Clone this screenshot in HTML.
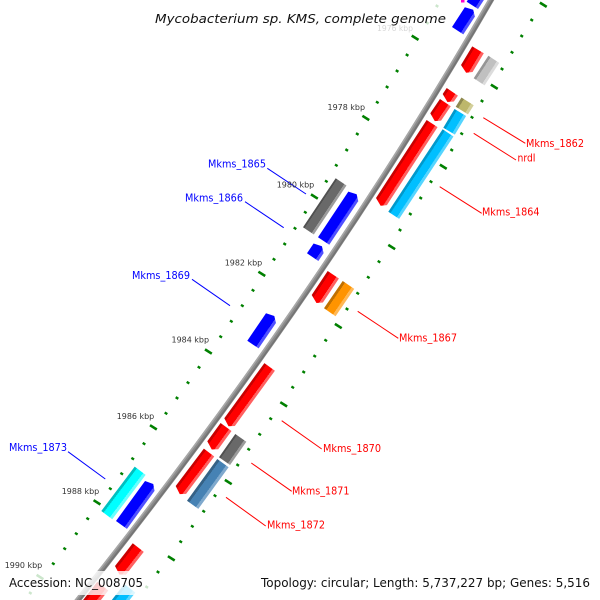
<!DOCTYPE html>
<html><head><meta charset="utf-8"><style>
html,body{margin:0;padding:0;background:#fff}
svg{display:block}
text{font-family:"DejaVu Sans","Liberation Sans",sans-serif}
.r{fill:#f00;font-size:10.4px}.b{fill:#00f;font-size:10.4px}
.k{fill:#333;font-size:8.2px}
.m{fill:#111;font-size:12.8px}
</style></head><body>
<svg width="600" height="600" viewBox="0 0 600 600" xmlns="http://www.w3.org/2000/svg">
<defs>
<linearGradient id="red" x1="0" y1="0" x2="0" y2="1"><stop offset=".2" stop-color="#c80000"/><stop offset=".2" stop-color="#f00"/><stop offset=".78" stop-color="#f00"/><stop offset=".78" stop-color="#ff6060"/></linearGradient>
<linearGradient id="blue" x1="0" y1="0" x2="0" y2="1"><stop offset=".78" stop-color="#00f"/><stop offset=".78" stop-color="#5050ff"/></linearGradient>
<linearGradient id="sky" x1="0" y1="0" x2="0" y2="1"><stop offset=".2" stop-color="#0099cc"/><stop offset=".2" stop-color="#00bfff"/><stop offset=".78" stop-color="#00bfff"/><stop offset=".78" stop-color="#55d5ff"/></linearGradient>
<linearGradient id="aqua" x1="0" y1="0" x2="0" y2="1"><stop offset=".2" stop-color="#00c0c0"/><stop offset=".2" stop-color="#0ff"/><stop offset=".78" stop-color="#0ff"/><stop offset=".78" stop-color="#66ffff"/></linearGradient>
<linearGradient id="dgray" x1="0" y1="0" x2="0" y2="1"><stop offset=".14" stop-color="#505050"/><stop offset=".14" stop-color="#696969"/><stop offset=".8" stop-color="#696969"/><stop offset=".8" stop-color="#9b9b9b"/></linearGradient>
<linearGradient id="lgray" x1="0" y1="0" x2="0" y2="1"><stop offset=".2" stop-color="#969696"/><stop offset=".2" stop-color="#c0c0c0"/><stop offset=".78" stop-color="#c0c0c0"/><stop offset=".78" stop-color="#dcdcdc"/></linearGradient>
<linearGradient id="khaki" x1="0" y1="0" x2="0" y2="1"><stop offset=".2" stop-color="#8e8950"/><stop offset=".2" stop-color="#bdb76b"/><stop offset=".78" stop-color="#bdb76b"/><stop offset=".78" stop-color="#d3cf9a"/></linearGradient>
<linearGradient id="orange" x1="0" y1="0" x2="0" y2="1"><stop offset=".2" stop-color="#c07000"/><stop offset=".2" stop-color="#ff9400"/><stop offset=".78" stop-color="#ff9400"/><stop offset=".78" stop-color="#ffb855"/></linearGradient>
<linearGradient id="steel" x1="0" y1="0" x2="0" y2="1"><stop offset=".2" stop-color="#356287"/><stop offset=".2" stop-color="#4682b4"/><stop offset=".78" stop-color="#4682b4"/><stop offset=".78" stop-color="#7fa9cd"/></linearGradient>
</defs>

<!-- ticks -->
<path fill="none" stroke="#008000" stroke-width="2.4" d="
M405.8 54.2l2.6 1.6M395.8 70.2l2.6 1.6M385.8 86.2l2.6 1.6M376 101.5l2.6 1.6
M356 133.2l2.6 1.6M345.4 149.2l2.6 1.6M335 164.5l2.6 1.6M325 180.5l2.6 1.6
M304 211.5l2.6 1.6M293.7 227.5l2.6 1.6M283.4 243.2l2.6 1.6M272.7 258.5l2.6 1.6
M251.7 289.5l2.6 1.6M241 304.9l2.6 1.6M230 320.5l2.6 1.6M219.4 335.9l2.6 1.6
M197.7 366.5l2.6 1.6M186.7 381.9l2.6 1.6M175.7 397.2l2.6 1.6M164.7 412.5l2.6 1.6
M142.7 442.9l2.6 1.6M131.4 457.9l2.6 1.6M120.4 472.9l2.6 1.6M109 487.9l2.6 1.6
M86.4 517.9l2.6 1.6M75 532.9l2.6 1.6M63.4 547.9l2.6 1.6M52 562.9l2.6 1.6
M530.4 19.2l2.6 1.6M520.4 35.2l2.6 1.6M510.7 51.5l2.6 1.6M500.7 68.2l2.6 1.6
M480.7 100.2l2.6 1.6M470.7 116.5l2.6 1.6M460.4 132.9l2.6 1.6M450.4 149.2l2.6 1.6
M429.7 180.9l2.6 1.6M419.4 197.2l2.6 1.6M409 213.2l2.6 1.6M398.7 229.2l2.6 1.6
M377.7 260.9l2.6 1.6M367 276.5l2.6 1.6M356.4 292.5l2.6 1.6M345.7 308.2l2.6 1.6
M324.4 339.5l2.6 1.6M313.4 355.3l2.6 1.6M302.4 371.2l2.6 1.6M291.4 386.5l2.6 1.6
M269.4 417.9l2.6 1.6M258.4 433.5l2.6 1.6M247.4 448.5l2.6 1.6M236.4 464.2l2.6 1.6
M213.7 494.9l2.6 1.6M202.4 510.5l2.6 1.6M191 525.5l2.6 1.6M179.4 540.9l2.6 1.6
M156.7 571.2l2.6 1.6M145.4 586.2l2.6 1.6
M426 22.2l2.6 1.6M435.7 5.2l2.6 1.6M29 592.2l2.6 1.6"/>
<path fill="none" stroke="#008000" stroke-width="2.6" d="
M411.7 35.6l6.8 4.3M362.4 115.8l6.8 4.3M311 194.4l6.8 4.3M258.4 271.7l6.8 4.3M205 349.4l6.8 4.3M150 425.2l6.8 4.3M93.6 500.2l6.8 4.3M36.6 574.9l6.8 4.3
M539.9 2.6l6.8 4.3M490.9 84.6l6.8 4.3M439.9 164.6l6.8 4.3M388.3 244.9l6.8 4.3M334.9 323.9l6.8 4.3M280.3 402.2l6.8 4.3M224.9 479.9l6.8 4.3M167.9 556.2l6.8 4.3"/>

<!-- backbone -->
<path fill="none" stroke="#8a8a8a" stroke-width="5.6" d="M502.5 -20Q322.9 295 70 610"/>
<path fill="none" stroke="#a8a8a8" stroke-width="1.6" transform="translate(-1.7,-1.1)" d="M502.5 -20Q322.9 295 70 610"/>
<path fill="none" stroke="#747474" stroke-width="1.6" transform="translate(1.2,.8)" d="M502.5 -20Q322.9 295 70 610"/>

<!-- genes -->
<rect x="461" y="0" width="3.5" height="2.5" fill="#ff00cc"/>
<g transform="translate(452,27) rotate(-57)"><polygon fill="url(#blue)" points="0,0 23.6,0 26,8.4 21.2,13.5 0,13.5"/></g>
<g transform="translate(466.7,1.7) rotate(-57)"><polygon fill="url(#blue)" points="0,0 30,0 30,13.5 0,13.5"/></g>
<g transform="translate(461,65) rotate(-59)"><polygon fill="url(#red)" points="21.8,0 21.8,13.5 0,13.5 -4,8.4 0,0"/></g>
<g transform="translate(473.7,78.3) rotate(-57)"><polygon fill="url(#lgray)" points="0,0 26.9,0 26.9,13 0,13"/></g>
<g transform="translate(442.7,94) rotate(-56)"><polygon fill="url(#red)" points="7.2,0 7.2,13.5 0,13.5 -4,8.4 0,0"/></g>
<g transform="translate(430.3,113.3) rotate(-56)"><polygon fill="url(#red)" points="17.3,0 17.3,13 0,13 -4,8.1 0,0"/></g>
<g transform="translate(455.7,106.7) rotate(-58)"><polygon fill="url(#khaki)" points="0,0 10.8,0 10.8,14.5 0,14.5"/></g>
<g transform="translate(443.3,127.7) rotate(-59)"><polygon fill="url(#sky)" points="0,0 21.8,0 21.8,13.5 0,13.5"/></g>
<g transform="translate(388.3,211.7) rotate(-56.6)"><polygon fill="url(#sky)" points="0,0 98.7,0 98.7,13 0,13"/></g>
<g transform="translate(376,198) rotate(-57)"><polygon fill="url(#red)" points="93,0 93,13 0,13 -4,8.1 0,0"/></g>
<g transform="translate(303,227.3) rotate(-56.3)"><polygon fill="url(#dgray)" points="0,0 58.9,0 58.9,13 0,13"/></g>
<g transform="translate(318,237.3) rotate(-56.4)"><polygon fill="url(#blue)" points="0,0 54.8,0 57.2,8.4 52.4,13.5 0,13.5"/></g>
<g transform="translate(307,253.3) rotate(-56)"><polygon fill="url(#blue)" points="0,0 11.8,0 14.2,8.4 9.4,13.7 0,13.7"/></g>
<g transform="translate(311.7,295) rotate(-56.3)"><polygon fill="url(#red)" points="28.8,0 28.8,13.5 0,13.5 -4,8.4 0,0"/></g>
<g transform="translate(324,308.3) rotate(-55.6)"><polygon fill="url(#orange)" points="0,0 33.1,0 33.1,14 0,14"/></g>
<g transform="translate(247.3,340.7) rotate(-55.7)"><polygon fill="url(#blue)" points="0,0 33.2,0 35.6,8.4 30.8,13.7 0,13.7"/></g>
<g transform="translate(224.3,418.3) rotate(-54)"><polygon fill="url(#red)" points="68.2,0 68.2,13 0,13 -4,8.1 0,0"/></g>
<g transform="translate(207.3,441.3) rotate(-54)"><polygon fill="url(#red)" points="22.6,0 22.6,13.5 0,13.5 -4,8.4 0,0"/></g>
<g transform="translate(219,457.3) rotate(-55)"><polygon fill="url(#dgray)" points="0,0 28.4,0 28.4,13.5 0,13.5"/></g>
<g transform="translate(175.7,486) rotate(-53)"><polygon fill="url(#red)" points="46.8,0 46.8,13 0,13 -4,8.1 0,0"/></g>
<g transform="translate(187,500.7) rotate(-54)"><polygon fill="url(#steel)" points="0,0 51.5,0 51.5,14 0,14"/></g>
<g transform="translate(101.3,511) rotate(-53)"><polygon fill="url(#aqua)" points="0,0 55.5,0 55.5,13.7 0,13.7"/></g>
<g transform="translate(116,521) rotate(-54)"><polygon fill="url(#blue)" points="0,0 49.4,0 51.8,8.4 47,13.5 0,13.5"/></g>
<g transform="translate(115,566) rotate(-52)"><polygon fill="url(#red)" points="28.8,0 28.8,14 0,14 -4,8.7 0,0"/></g>
<g transform="translate(80,604) rotate(-52)"><polygon fill="url(#red)" points="0,0 28,0 28,14 0,14"/></g>
<g transform="translate(104,610) rotate(-52)"><polygon fill="url(#sky)" points="0,0 33,0 33,14 0,14"/></g>

<!-- leader lines -->
<g stroke="#f00" stroke-width="1" fill="none">
<path d="M483.3 117.7L525.3 143.3M473.7 133.3L516 160M439.7 186.7L481.7 213.3M357.7 311.3L398.3 338.3M281.7 420.7L321.7 449M251.3 463L291.7 491.3M226 497.3L265.7 526"/>
</g>
<g stroke="#00f" stroke-width="1" fill="none">
<path d="M267.3 168.3L306 194M245 201.7L283.7 227.7M192 279.3L230 305.7M68 451.7L105.3 479"/>
</g>

<!-- scale labels -->
<text class="k" x="377" y="31" textLength="36" lengthAdjust="spacingAndGlyphs">1976 kbp</text>
<text class="k" x="327.5" y="110" textLength="37.5" lengthAdjust="spacingAndGlyphs">1978 kbp</text>
<text class="k" x="276.7" y="187.7" textLength="37.5" lengthAdjust="spacingAndGlyphs">1980 kbp</text>
<text class="k" x="224.7" y="265.7" textLength="37.5" lengthAdjust="spacingAndGlyphs">1982 kbp</text>
<text class="k" x="171.5" y="342.7" textLength="37.5" lengthAdjust="spacingAndGlyphs">1984 kbp</text>
<text class="k" x="116.7" y="419" textLength="37.5" lengthAdjust="spacingAndGlyphs">1986 kbp</text>
<text class="k" x="61.7" y="494" textLength="37.5" lengthAdjust="spacingAndGlyphs">1988 kbp</text>
<text class="k" x="4.7" y="568" textLength="37.5" lengthAdjust="spacingAndGlyphs">1990 kbp</text>

<!-- overlay boxes -->
<rect x="150" y="4" width="300" height="29" fill="#fff" fill-opacity=".8"/>
<rect x="0" y="571" width="150" height="24" fill="#fff" fill-opacity=".8"/>
<rect x="258" y="571" width="338" height="24" fill="#fff" fill-opacity=".8"/>

<!-- gene labels -->
<text class="r" x="526" y="147" textLength="58" lengthAdjust="spacingAndGlyphs">Mkms_1862</text>
<text class="r" x="517.5" y="161.5" textLength="18" lengthAdjust="spacingAndGlyphs">nrdI</text>
<text class="r" x="482" y="215.5" textLength="57.5" lengthAdjust="spacingAndGlyphs">Mkms_1864</text>
<text class="r" x="399" y="341.7" textLength="58" lengthAdjust="spacingAndGlyphs">Mkms_1867</text>
<text class="r" x="323" y="452" textLength="58" lengthAdjust="spacingAndGlyphs">Mkms_1870</text>
<text class="r" x="292" y="494.5" textLength="57.5" lengthAdjust="spacingAndGlyphs">Mkms_1871</text>
<text class="r" x="267" y="528.5" textLength="58" lengthAdjust="spacingAndGlyphs">Mkms_1872</text>
<text class="b" x="208" y="167.5" textLength="58" lengthAdjust="spacingAndGlyphs">Mkms_1865</text>
<text class="b" x="185" y="201.7" textLength="58" lengthAdjust="spacingAndGlyphs">Mkms_1866</text>
<text class="b" x="132" y="279" textLength="58" lengthAdjust="spacingAndGlyphs">Mkms_1869</text>
<text class="b" x="9" y="451" textLength="58" lengthAdjust="spacingAndGlyphs">Mkms_1873</text>

<!-- title & legends -->
<text class="m" x="155" y="23" textLength="291" lengthAdjust="spacingAndGlyphs" font-style="italic">Mycobacterium sp. KMS, complete genome</text>
<text class="m" x="9" y="587" textLength="134" lengthAdjust="spacingAndGlyphs">Accession: NC_008705</text>
<text class="m" x="261" y="587" textLength="329" lengthAdjust="spacingAndGlyphs">Topology: circular; Length: 5,737,227 bp; Genes: 5,516</text>
</svg>
</body></html>
